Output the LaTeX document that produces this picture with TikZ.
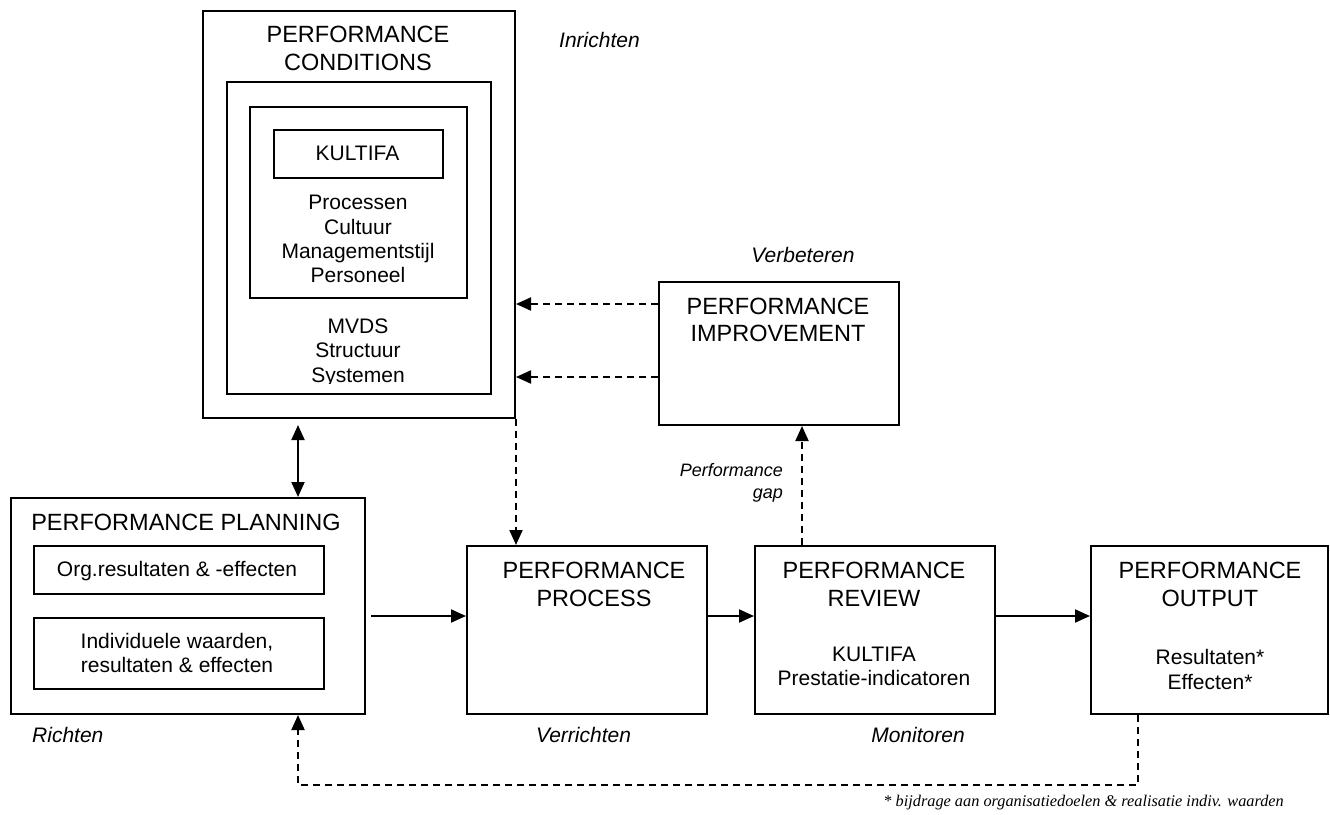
\documentclass[tikz,border=0pt]{standalone}
\usepackage{fontspec}
\setmainfont{Liberation Sans}
\newfontfamily\fnfont{Liberation Serif}
\usetikzlibrary{arrows.meta}
\begin{document}
\begin{tikzpicture}[x=1pt,y=-1pt,
  bx/.style={draw,line width=2pt,inner sep=0pt,anchor=north west},
  hd/.style={font=\fontsize{23.5}{28}\selectfont,anchor=base,inner sep=0pt},
  tx/.style={font=\fontsize{21}{24}\selectfont,anchor=base,inner sep=0pt},
  lb/.style={font=\fontsize{21}{24}\selectfont\itshape,anchor=base,inner sep=0pt},
  gp/.style={font=\fontsize{18}{21}\selectfont\itshape,anchor=base east,inner sep=0pt},
  fn/.style={font=\fontsize{16.3}{19}\selectfont\fnfont\itshape,anchor=base east,inner sep=0pt},
  arr/.style={line width=2pt,-{Triangle[length=15pt,width=13pt]}},
  darr/.style={arr,dash pattern=on 7pt off 5pt}]
\useasboundingbox (0,0) rectangle (1330,814);

% boxes
\node[bx,minimum width=312pt,minimum height=407pt] (cond) at (202,10) {};
\node[bx,minimum width=264pt,minimum height=312pt] (condmid) at (226,81) {};
\node[bx,minimum width=217pt,minimum height=191pt] (condin) at (249,106) {};
\node[bx,minimum width=169pt,minimum height=48pt] (kult) at (273,129) {};
\node[bx,minimum width=240pt,minimum height=143pt] (impr) at (658,281) {};
\node[bx,minimum width=354pt,minimum height=216pt] (plan) at (10,497) {};
\node[bx,minimum width=290pt,minimum height=48pt] (org) at (33,545) {};
\node[bx,minimum width=290pt,minimum height=71pt] (indiv) at (33,617) {};
\node[bx,minimum width=240pt,minimum height=168pt] (proc) at (466,545) {};
\node[bx,minimum width=240pt,minimum height=168pt] (rev) at (754,545) {};
\node[bx,minimum width=237pt,minimum height=168pt] (out) at (1090,545) {};

% texts: conditions
\node[hd] (c1) at (358,42.7) {PERFORMANCE};
\node[hd] (c2) at (358,70) {CONDITIONS};
\node[tx] (k1) at (357.5,160) {KULTIFA};
\node[tx] (p1) at (358,209.3) {Processen};
\node[tx] (p2) at (358,234) {Cultuur};
\node[tx] (p3) at (358,258.3) {Managementstijl};
\node[tx] (p4) at (358,282.7) {Personeel};
\node[tx] (m1) at (358,333.3) {MVDS};
\node[tx] (m2) at (358,357.7) {Structuur};
\begin{scope}
\clip (226,300) rectangle (490,383);
\node[tx] (m3) at (358,382) {Systemen};
\end{scope}
\node[lb,anchor=base west] (inr) at (559,47) {Inrichten};

% improvement
\node[lb] (verb) at (803,262.7) {Verbeteren};
\node[hd] (i1) at (778,314) {PERFORMANCE};
\node[hd] (i2) at (778,341.7) {IMPROVEMENT};
\node[gp] (g1) at (783,476.7) {Performance};
\node[gp] (g2) at (783,498) {gap};

% planning
\node[hd] (pl1) at (186,530) {PERFORMANCE PLANNING};
\node[tx] (o1) at (177,576) {Org.resultaten \& -effecten};
\node[tx] (iv1) at (177,648.3) {Individuele waarden,};
\node[tx] (iv2) at (177,672.3) {resultaten \& effecten};
\node[lb,anchor=base west] (richt) at (32,742.7) {Richten};

% process
\node[hd] (pr1) at (594,578.3) {PERFORMANCE};
\node[hd] (pr2) at (594,606) {PROCESS};
\node[lb] (verr) at (583.5,742.7) {Verrichten};

% review
\node[hd] (rv1) at (874,578.3) {PERFORMANCE};
\node[hd] (rv2) at (874,606) {REVIEW};
\node[tx] (rv3) at (874,661.7) {KULTIFA};
\node[tx] (rv4) at (874,685.7) {Prestatie-indicatoren};
\node[lb] (mon) at (918,742.3) {Monitoren};

% output
\node[hd] (ou1) at (1210,578.3) {PERFORMANCE};
\node[hd] (ou2) at (1210,606) {OUTPUT};
\node[tx] (ou3) at (1210,664.3) {Resultaten*};
\node[tx] (ou4) at (1210,689) {Effecten*};

\node[fn] (foot) at (1284,806) {* bijdrage aan organisatiedoelen \& realisatie indiv. waarden};

% helper coordinates
\coordinate (xa) at (298,0);
\coordinate (ya) at (0,616);
\coordinate (yb) at (0,304);
\coordinate (yc) at (0,377);
\coordinate (xg) at (802,0);
\coordinate (xf) at (1138,0);
\coordinate (yd) at (0,785);

% connectors
\draw[arr,{Triangle[length=15pt,width=13pt]}-{Triangle[length=15pt,width=13pt]},shorten <=6pt]
  (xa |- cond.south) -- (xa |- plan.north);
\draw[arr,shorten <=5pt] (plan.east |- ya) -- (proc.west |- ya);
\draw[arr] (proc.east |- ya) -- (rev.west |- ya);
\draw[arr] (rev.east |- ya) -- (out.west |- ya);
\draw[darr] (cond.south east) -- (cond.south east |- proc.north);
\draw[darr] (impr.west |- yb) -- (cond.east |- yb);
\draw[darr] (impr.west |- yc) -- (cond.east |- yc);
\draw[darr] (xg |- rev.north) -- (xg |- impr.south);
\draw[darr] (xf |- out.south) -- (xf |- yd) -- (xa |- yd) -- (xa |- plan.south);
\end{tikzpicture}
\end{document}
